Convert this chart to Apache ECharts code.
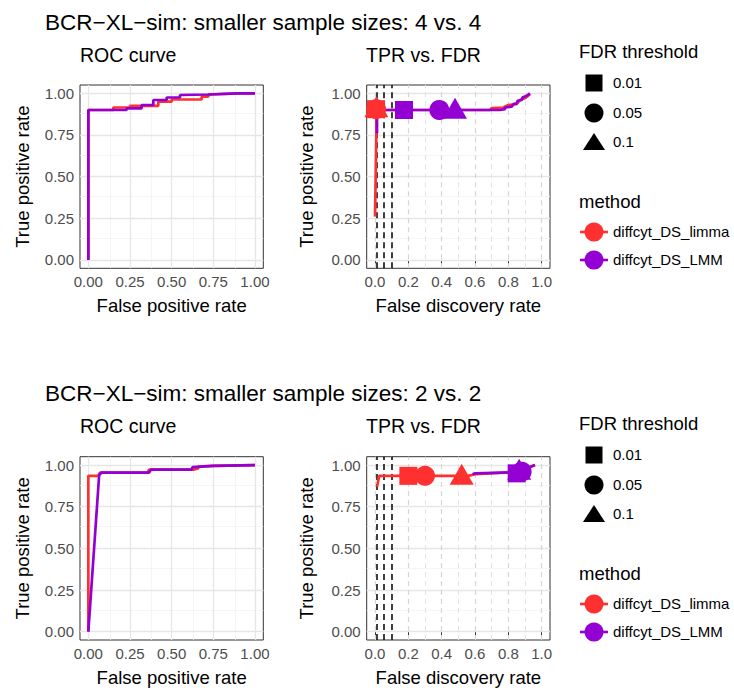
<!DOCTYPE html>
<html>
<head>
<meta charset="utf-8">
<script src="https://cdn.jsdelivr.net/npm/echarts@6/dist/echarts.min.js"></script>
<style>
  html, body { margin: 0; padding: 0; background: #fff; }
  #main { width: 734px; height: 691px; }
</style>
</head>
<body>
<div id="main"></div>
<script>
// ---------- data ----------
var methods = ["diffcyt_DS_limma", "diffcyt_DS_LMM"];
var methodColors = ["#FF3030", "#9400D3"];
var thresholds = ["0.01", "0.05", "0.1"];
var thresholdShapes = ["rect", "circle", "triangle"];
var fdrCutLines = [0.01, 0.05, 0.1];

var rocTicks = [0, 0.25, 0.5, 0.75, 1];
var rocMinor = [0.125, 0.375, 0.625, 0.875];
var fdrTicks = [0, 0.2, 0.4, 0.6, 0.8, 1];
var fdrMinor = [0.1, 0.3, 0.5, 0.7, 0.9];
var tprTicks = [0, 0.25, 0.5, 0.75, 1];
var tprMinor = [0.125, 0.375, 0.625, 0.875];

// 4 vs. 4 : ROC
var roc4_limma_fpr = [0, 0, 0.15, 0.15, 0.25, 0.25, 0.42, 0.42, 0.5, 0.5, 0.68, 0.68, 0.72, 0.72, 0.9, 1];
var roc4_limma_tpr = [0, 0.9, 0.9, 0.915, 0.915, 0.925, 0.925, 0.95, 0.95, 0.963, 0.963, 0.98, 0.98, 0.993, 1, 1];
var roc4_lmm_fpr = [0, 0, 0.23, 0.23, 0.32, 0.32, 0.39, 0.39, 0.47, 0.47, 0.55, 0.55, 0.72, 0.9, 1];
var roc4_lmm_tpr = [0, 0.9, 0.9, 0.91, 0.91, 0.93, 0.93, 0.96, 0.96, 0.975, 0.975, 0.99, 0.993, 1, 1];

// 4 vs. 4 : TPR vs FDR
var fdr4_limma_fdr = [0, 0.008, 0.008, 0.69, 0.7, 0.77, 0.8, 0.85, 0.87, 0.9, 0.93];
var fdr4_limma_tpr = [0.26, 0.76, 0.9, 0.9, 0.912, 0.915, 0.93, 0.935, 0.96, 0.97, 0.995];
var fdr4_lmm_fdr = [0.012, 0.012, 0.75, 0.78, 0.78, 0.82, 0.83, 0.85, 0.855, 0.88, 0.885, 0.91, 0.93];
var fdr4_lmm_tpr = [0.76, 0.9, 0.9, 0.905, 0.915, 0.92, 0.935, 0.94, 0.955, 0.96, 0.975, 0.985, 1];
var pts4_limma_fdr = [0.006, 0.006, 0.008];
var pts4_limma_tpr = [0.905, 0.905, 0.92];
var pts4_lmm_fdr = [0.174, 0.386, 0.48];
var pts4_lmm_tpr = [0.9, 0.9, 0.91];

// 2 vs. 2 : ROC
var roc2_limma_fpr = [0, 0, 0.06, 0.07, 0.355, 0.365, 0.63, 0.66, 0.66, 0.75, 1];
var roc2_limma_tpr = [0, 0.935, 0.935, 0.955, 0.955, 0.972, 0.972, 0.98, 0.99, 0.995, 1];
var roc2_lmm_fpr = [0, 0.065, 0.08, 0.365, 0.375, 0.62, 0.625, 0.75, 1];
var roc2_lmm_tpr = [0, 0.94, 0.955, 0.955, 0.972, 0.972, 0.988, 0.995, 1];

// 2 vs. 2 : TPR vs FDR
var fdr2_limma_fdr = [0.012, 0.025, 0.56, 0.6, 0.77, 0.88, 0.96];
var fdr2_limma_tpr = [0.87, 0.935, 0.935, 0.945, 0.955, 0.965, 1];
var fdr2_lmm_fdr = [0.585, 0.6, 0.77, 0.85, 0.88, 0.92, 0.96];
var fdr2_lmm_tpr = [0.945, 0.95, 0.955, 0.955, 0.97, 0.985, 1];
var pts2_limma_fdr = [0.2, 0.3, 0.52];
var pts2_limma_tpr = [0.935, 0.935, 0.945];
var pts2_lmm_fdr = [0.85, 0.88, 0.865];
var pts2_lmm_tpr = [0.95, 0.96, 0.975];

// ---------- helpers ----------
function zip(a, b) {
  return a.map(function (v, i) { return [v, b[i]]; });
}
var FONT = "Liberation Sans, Arial, sans-serif";

function makeX(gi, ticks, digits, name) {
  return {
    gridIndex: gi, type: "value", min: -0.05, max: 1.05,
    name: name, nameLocation: "middle", nameGap: 28,
    nameTextStyle: { fontSize: 18.5, color: "#000" },
    axisLine: { show: false },
    axisTick: { show: true, customValues: ticks, length: 4, lineStyle: { color: "#333" } },
    axisLabel: { customValues: ticks, fontSize: 15, color: "#4D4D4D", margin: 6,
      formatter: function (v) { return (+v).toFixed(digits); } },
    splitLine: { show: false }
  };
}
function makeY(gi, gap) {
  return {
    gridIndex: gi, type: "value", min: -0.05, max: 1.05,
    name: "True positive rate", nameLocation: "middle", nameGap: gap,
    nameTextStyle: { fontSize: 18.5, color: "#000" },
    axisLine: { show: false },
    axisTick: { show: true, customValues: tprTicks, length: 4, lineStyle: { color: "#333" } },
    axisLabel: { customValues: tprTicks, fontSize: 15, color: "#4D4D4D", margin: 6,
      formatter: function (v) { return (+v).toFixed(2); } },
    splitLine: { show: false }
  };
}
// grid / threshold lines as markLines of an invisible series (kept below the curves)
function guideSeries(gi, vals, dim, style, z) {
  return {
    type: "line", xAxisIndex: gi, yAxisIndex: gi, data: [[0, 0]],
    symbol: "none", lineStyle: { opacity: 0 }, silent: true, z: z, animation: false,
    markLine: {
      z: z, silent: true, symbol: ["none", "none"], label: { show: false }, animation: false,
      lineStyle: style,
      data: vals.map(function (v) { var o = {}; o[dim] = v; return o; })
    }
  };
}
function curve(gi, m, xs, ys) {
  return {
    name: methods[m], type: "line", xAxisIndex: gi, yAxisIndex: gi,
    data: zip(xs, ys), symbol: "none", showSymbol: false,
    lineStyle: { width: 2.7, color: methodColors[m] }, itemStyle: { color: methodColors[m] },
    z: 6, animation: false
  };
}
function marks(gi, m, xs, ys) {
  var sizes = { rect: 18, circle: 20, triangle: [24, 21] };
  return {
    name: methods[m] + " thresholds", type: "scatter", xAxisIndex: gi, yAxisIndex: gi,
    data: zip(xs, ys).map(function (p, i) {
      return { value: p, symbol: thresholdShapes[i], symbolSize: sizes[thresholdShapes[i]] };
    }),
    itemStyle: { color: methodColors[m], opacity: 1 }, z: 7, animation: false
  };
}

var majorStyle = { color: "#E6E6E6", width: 1.3, type: "solid" };
var minorStyle = { color: "#F2F2F2", width: 0.8, type: "solid" };
var majorDash = { color: "#D6D6D6", width: 1.2, type: [5, 4] };
var minorDash = { color: "#E3E3E3", width: 1, type: [5, 4] };
var cutStyle = { color: "#000", width: 1.5, type: [6, 4] };

var series = [];
// ROC grids: 0 (top), 2 (bottom)
[0, 2].forEach(function (gi) {
  series.push(guideSeries(gi, rocMinor, "xAxis", minorStyle, 1));
  series.push(guideSeries(gi, tprMinor, "yAxis", minorStyle, 1));
  series.push(guideSeries(gi, rocTicks, "xAxis", majorStyle, 1));
  series.push(guideSeries(gi, tprTicks, "yAxis", majorStyle, 1));
});
// FDR grids: 1 (top), 3 (bottom)
[1, 3].forEach(function (gi) {
  series.push(guideSeries(gi, tprMinor, "yAxis", minorStyle, 1));
  series.push(guideSeries(gi, tprTicks, "yAxis", majorStyle, 1));
  series.push(guideSeries(gi, fdrMinor, "xAxis", minorDash, 1));
  series.push(guideSeries(gi, fdrTicks, "xAxis", majorDash, 1));
  series.push(guideSeries(gi, fdrCutLines, "xAxis", cutStyle, 2));
});

series.push(curve(0, 0, roc4_limma_fpr, roc4_limma_tpr));
series.push(curve(0, 1, roc4_lmm_fpr, roc4_lmm_tpr));
series.push(curve(1, 0, fdr4_limma_fdr, fdr4_limma_tpr));
series.push(curve(1, 1, fdr4_lmm_fdr, fdr4_lmm_tpr));
series.push(marks(1, 1, pts4_lmm_fdr, pts4_lmm_tpr));
series.push(marks(1, 0, pts4_limma_fdr, pts4_limma_tpr));

series.push(curve(2, 0, roc2_limma_fpr, roc2_limma_tpr));
series.push(curve(2, 1, roc2_lmm_fpr, roc2_lmm_tpr));
series.push(curve(3, 0, fdr2_limma_fdr, fdr2_limma_tpr));
series.push(curve(3, 1, fdr2_lmm_fdr, fdr2_lmm_tpr));
series.push(marks(3, 0, pts2_limma_fdr, pts2_limma_tpr));
series.push(marks(3, 1, pts2_lmm_fdr, pts2_lmm_tpr));

// legends drawn as graphics
function legendBlock(y0) {
  var els = [];
  els.push({ type: "text", left: 579, top: y0 - 11,
    style: { text: "FDR threshold", fill: "#000", font: "18.5px " + FONT } });
  var ys = [y0 + 30, y0 + 60, y0 + 89];
  els.push({ type: "rect", shape: { x: 585.5, y: ys[0] - 8.5, width: 17, height: 17 }, style: { fill: "#000" } });
  els.push({ type: "circle", shape: { cx: 594, cy: ys[1], r: 9.5 }, style: { fill: "#000" } });
  els.push({ type: "polygon", shape: { points: [[594, ys[2] - 9], [605, ys[2] + 8], [583, ys[2] + 8]] }, style: { fill: "#000" } });
  thresholds.forEach(function (t, i) {
    els.push({ type: "text", left: 613, top: ys[i] - 8,
      style: { text: t, fill: "#000", font: "15px " + FONT } });
  });
  els.push({ type: "text", left: 579, top: y0 + 139,
    style: { text: "method", fill: "#000", font: "18.5px " + FONT } });
  [y0 + 179, y0 + 207].forEach(function (yy, m) {
    els.push({ type: "line", shape: { x1: 580, y1: yy, x2: 608, y2: yy },
      style: { stroke: methodColors[m], lineWidth: 2.6 } });
    els.push({ type: "circle", shape: { cx: 594, cy: yy, r: 9.5 }, style: { fill: methodColors[m] } });
    els.push({ type: "text", left: 613, top: yy - 8,
      style: { text: methods[m], fill: "#000", font: "15px " + FONT } });
  });
  return els;
}

var gridBase = { show: true, borderColor: "#333", borderWidth: 1, backgroundColor: "#fff", containLabel: false };
var option = {
  backgroundColor: "#fff",
  textStyle: { fontFamily: FONT },
  animation: false,
  title: [
    { text: "BCR\u2212XL\u2212sim: smaller sample sizes: 4 vs. 4", left: 45, top: 11, padding: 0,
      textStyle: { fontSize: 22.5, fontWeight: "normal", color: "#000" } },
    { text: "ROC curve", left: 80, top: 45, padding: 0, textStyle: { fontSize: 19.5, fontWeight: "normal", color: "#000" } },
    { text: "TPR vs. FDR", left: 366, top: 45, padding: 0, textStyle: { fontSize: 19.5, fontWeight: "normal", color: "#000" } },
    { text: "BCR\u2212XL\u2212sim: smaller sample sizes: 2 vs. 2", left: 45, top: 382, padding: 0,
      textStyle: { fontSize: 22.5, fontWeight: "normal", color: "#000" } },
    { text: "ROC curve", left: 80, top: 416, padding: 0, textStyle: { fontSize: 19.5, fontWeight: "normal", color: "#000" } },
    { text: "TPR vs. FDR", left: 366, top: 416, padding: 0, textStyle: { fontSize: 19.5, fontWeight: "normal", color: "#000" } }
  ],
  grid: [
    Object.assign({ left: 80, top: 85, width: 183.3, height: 183.3 }, gridBase),
    Object.assign({ left: 366.7, top: 85, width: 183.3, height: 183.3 }, gridBase),
    Object.assign({ left: 80, top: 456.7, width: 183.3, height: 183.3 }, gridBase),
    Object.assign({ left: 366.7, top: 456.7, width: 183.3, height: 183.3 }, gridBase)
  ],
  xAxis: [
    makeX(0, rocTicks, 2, "False positive rate"),
    makeX(1, fdrTicks, 1, "False discovery rate"),
    makeX(2, rocTicks, 2, "False positive rate"),
    makeX(3, fdrTicks, 1, "False discovery rate")
  ],
  yAxis: [makeY(0, 48), makeY(1, 51), makeY(2, 48), makeY(3, 51)],
  graphic: legendBlock(53).concat(legendBlock(425)),
  series: series
};

var chart = echarts.init(document.getElementById("main"), null, { renderer: "svg" });
chart.setOption(option);
</script>
</body>
</html>
